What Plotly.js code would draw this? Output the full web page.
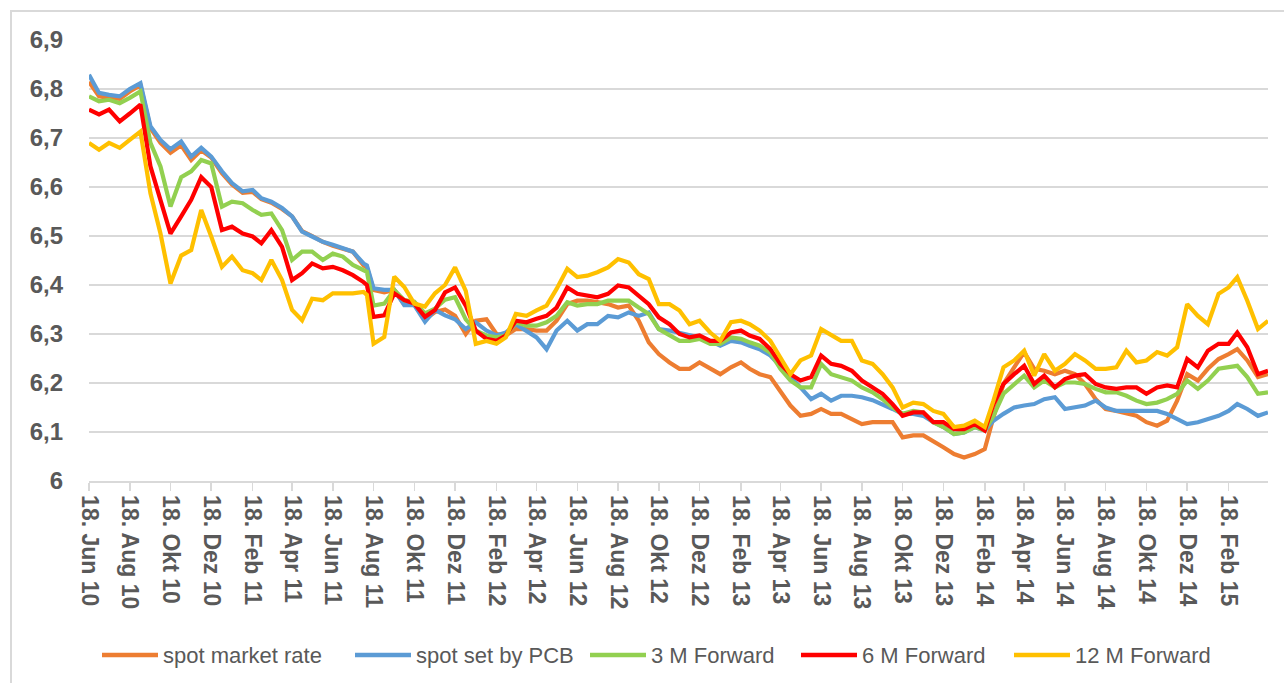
<!DOCTYPE html>
<html>
<head>
<meta charset="utf-8">
<script src="https://cdn.plot.ly/plotly-3.0.1.min.js"></script>
<style>
  html, body { margin: 0; padding: 0; background: #ffffff; }
  #wrap { position: relative; width: 1284px; height: 683px; overflow: hidden; }
  #frame { position: absolute; left: 10px; top: 10px; width: 1300px; height: 700px;
           border-top: 2px solid #d9d9d9; border-left: 2px solid #d9d9d9; pointer-events: none; }
  #chart { position: absolute; left: 0; top: 0; width: 1284px; height: 683px; }
</style>
</head>
<body>
<div id="wrap">
  <div id="chart"></div>
  <div id="frame"></div>
</div>
<script>
// Sample dates (roughly semi-monthly, plus one just before the Aug 2011 drop)
const dates = [
 "2010-06-18","2010-07-03","2010-07-18","2010-08-03","2010-08-18","2010-09-03","2010-09-18","2010-10-03","2010-10-18","2010-11-03",
 "2010-11-18","2010-12-03","2010-12-18","2011-01-03","2011-01-18","2011-02-03","2011-02-18","2011-03-03","2011-03-18","2011-04-03",
 "2011-04-18","2011-05-03","2011-05-18","2011-06-03","2011-06-18","2011-07-03","2011-07-18","2011-08-03","2011-08-08","2011-08-18","2011-09-03",
 "2011-09-18","2011-10-03","2011-10-18","2011-11-03","2011-11-18","2011-12-03","2011-12-18","2012-01-03","2012-01-18","2012-02-03",
 "2012-02-18","2012-03-03","2012-03-18","2012-04-03","2012-04-18","2012-05-03","2012-05-18","2012-06-03","2012-06-18","2012-07-03",
 "2012-07-18","2012-08-03","2012-08-18","2012-09-03","2012-09-18","2012-10-03","2012-10-18","2012-11-03","2012-11-18","2012-12-03",
 "2012-12-18","2013-01-03","2013-01-18","2013-02-03","2013-02-18","2013-03-03","2013-03-18","2013-04-03","2013-04-18","2013-05-03",
 "2013-05-18","2013-06-03","2013-06-18","2013-07-03","2013-07-18","2013-08-03","2013-08-18","2013-09-03","2013-09-18","2013-10-03",
 "2013-10-18","2013-11-03","2013-11-18","2013-12-03","2013-12-18","2014-01-03","2014-01-18","2014-02-03","2014-02-18","2014-03-03",
 "2014-03-18","2014-04-03","2014-04-18","2014-05-03","2014-05-18","2014-06-03","2014-06-18","2014-07-03","2014-07-18","2014-08-03",
 "2014-08-18","2014-09-03","2014-09-18","2014-10-03","2014-10-18","2014-11-03","2014-11-18","2014-12-03","2014-12-18","2015-01-03",
 "2015-01-18","2015-02-03","2015-02-18","2015-03-03","2015-03-18","2015-04-03","2015-04-18"
];

const spotMarket = [
 6.815,6.785,6.782,6.780,6.795,6.808,6.720,6.690,6.670,6.685,
 6.655,6.675,6.660,6.628,6.605,6.588,6.590,6.575,6.568,6.555,
 6.540,6.510,6.500,6.488,6.480,6.473,6.468,6.440,6.436,6.390,6.385,
 6.390,6.360,6.360,6.330,6.345,6.350,6.337,6.300,6.327,6.330,
 6.300,6.297,6.310,6.310,6.307,6.307,6.327,6.361,6.368,6.368,
 6.365,6.361,6.354,6.358,6.327,6.283,6.259,6.242,6.229,6.229,
 6.242,6.229,6.218,6.232,6.242,6.229,6.218,6.212,6.184,6.154,
 6.133,6.137,6.147,6.137,6.137,6.127,6.116,6.120,6.120,6.120,
 6.089,6.093,6.093,6.082,6.069,6.055,6.048,6.055,6.065,6.130,
 6.198,6.232,6.263,6.229,6.225,6.218,6.225,6.218,6.198,6.167,
 6.147,6.143,6.137,6.133,6.120,6.113,6.123,6.164,6.218,6.205,
 6.229,6.249,6.259,6.269,6.246,6.212,6.218
];

const spotPCB = [
 6.829,6.792,6.788,6.785,6.800,6.812,6.724,6.696,6.677,6.693,
 6.662,6.680,6.662,6.632,6.608,6.591,6.594,6.577,6.570,6.557,
 6.540,6.509,6.499,6.488,6.482,6.475,6.468,6.444,6.440,6.393,6.390,
 6.390,6.359,6.359,6.325,6.349,6.338,6.330,6.310,6.324,6.307,
 6.297,6.303,6.320,6.307,6.293,6.269,6.307,6.327,6.307,6.320,
 6.320,6.337,6.334,6.344,6.337,6.344,6.310,6.307,6.303,6.297,
 6.293,6.286,6.276,6.286,6.283,6.276,6.269,6.256,6.235,6.215,
 6.191,6.167,6.178,6.164,6.174,6.174,6.171,6.165,6.157,6.147,
 6.137,6.137,6.133,6.120,6.110,6.096,6.099,6.110,6.103,6.123,
 6.137,6.150,6.154,6.157,6.167,6.171,6.147,6.150,6.154,6.164,
 6.150,6.143,6.143,6.143,6.143,6.143,6.137,6.127,6.116,6.120,
 6.127,6.133,6.143,6.157,6.147,6.133,6.140
];

const fwd3M = [
 6.785,6.775,6.778,6.771,6.782,6.795,6.690,6.642,6.560,6.620,
 6.632,6.655,6.648,6.560,6.570,6.567,6.553,6.543,6.546,6.512,
 6.451,6.468,6.468,6.451,6.464,6.458,6.441,6.430,6.427,6.358,6.362,
 6.390,6.369,6.366,6.342,6.352,6.370,6.375,6.330,6.307,6.297,
 6.293,6.297,6.324,6.317,6.317,6.324,6.337,6.365,6.358,6.361,
 6.361,6.368,6.368,6.368,6.354,6.341,6.310,6.297,6.286,6.286,
 6.290,6.280,6.280,6.293,6.290,6.283,6.276,6.262,6.229,6.205,
 6.191,6.191,6.239,6.218,6.212,6.205,6.191,6.181,6.167,6.150,
 6.137,6.143,6.140,6.120,6.110,6.096,6.099,6.110,6.103,6.133,
 6.178,6.198,6.215,6.191,6.205,6.191,6.201,6.201,6.198,6.188,
 6.181,6.181,6.174,6.164,6.157,6.160,6.167,6.178,6.205,6.188,
 6.205,6.229,6.232,6.235,6.212,6.178,6.181
];

const fwd6M = [
 6.758,6.748,6.758,6.734,6.750,6.768,6.642,6.574,6.505,6.540,
 6.574,6.620,6.600,6.512,6.519,6.505,6.499,6.485,6.512,6.478,
 6.410,6.424,6.444,6.434,6.437,6.430,6.420,6.406,6.400,6.335,6.338,
 6.383,6.369,6.362,6.335,6.349,6.385,6.395,6.358,6.307,6.290,
 6.286,6.297,6.327,6.324,6.331,6.337,6.354,6.395,6.382,6.378,
 6.375,6.382,6.399,6.395,6.378,6.361,6.334,6.320,6.300,6.293,
 6.297,6.286,6.286,6.303,6.307,6.297,6.290,6.269,6.239,6.218,
 6.205,6.212,6.256,6.239,6.235,6.225,6.205,6.191,6.178,6.157,
 6.133,6.140,6.140,6.120,6.120,6.106,6.106,6.116,6.103,6.157,
 6.198,6.218,6.235,6.198,6.215,6.191,6.208,6.215,6.218,6.198,
 6.191,6.188,6.191,6.191,6.178,6.191,6.195,6.191,6.249,6.232,
 6.266,6.280,6.280,6.303,6.273,6.218,6.225
];

const fwd12M = [
 6.690,6.676,6.690,6.680,6.696,6.713,6.587,6.505,6.403,6.460,
 6.471,6.553,6.499,6.437,6.458,6.430,6.424,6.410,6.451,6.410,
 6.349,6.328,6.372,6.369,6.383,6.383,6.383,6.386,6.380,6.280,6.294,
 6.417,6.396,6.362,6.356,6.383,6.400,6.436,6.388,6.280,6.286,
 6.280,6.293,6.341,6.337,6.348,6.358,6.392,6.433,6.416,6.419,
 6.426,6.436,6.453,6.446,6.422,6.412,6.361,6.361,6.348,6.320,
 6.327,6.303,6.286,6.324,6.327,6.320,6.307,6.286,6.252,6.218,
 6.246,6.256,6.310,6.297,6.286,6.286,6.246,6.239,6.218,6.191,
 6.150,6.160,6.157,6.143,6.137,6.110,6.113,6.123,6.110,6.164,
 6.232,6.246,6.266,6.215,6.259,6.225,6.239,6.259,6.246,6.229,
 6.229,6.232,6.266,6.242,6.246,6.263,6.256,6.273,6.361,6.337,
 6.320,6.382,6.395,6.416,6.368,6.310,6.327
];

const seriesNames = ["spot market rate","spot set by PCB","3 M Forward","6 M Forward","12 M Forward"];
const seriesColors = ["#ED7D31","#5B9BD5","#92D050","#FF0000","#FFC000"];

const tickDates = [
 "2010-06-18","2010-08-18","2010-10-18","2010-12-18","2011-02-18","2011-04-18","2011-06-18","2011-08-18","2011-10-18","2011-12-18",
 "2012-02-18","2012-04-18","2012-06-18","2012-08-18","2012-10-18","2012-12-18","2013-02-18","2013-04-18","2013-06-18","2013-08-18",
 "2013-10-18","2013-12-18","2014-02-18","2014-04-18","2014-06-18","2014-08-18","2014-10-18","2014-12-18","2015-02-18"
];
const tickLabels = [
 "18. Jun 10","18. Aug 10","18. Okt 10","18. Dez 10","18. Feb 11","18. Apr 11","18. Jun 11","18. Aug 11","18. Okt 11","18. Dez 11",
 "18. Feb 12","18. Apr 12","18. Jun 12","18. Aug 12","18. Okt 12","18. Dez 12","18. Feb 13","18. Apr 13","18. Jun 13","18. Aug 13",
 "18. Okt 13","18. Dez 13","18. Feb 14","18. Apr 14","18. Jun 14","18. Aug 14","18. Okt 14","18. Dez 14","18. Feb 15"
];

// ---- geometry / style (not data) ----
const W = 1284, H = 683;
const M = { l: 89, r: 16, t: 40, b: 202 };
const plotW = W - M.l - M.r, plotH = H - M.t - M.b;
const px2paperX = px => (px - M.l) / plotW;
const px2paperY = py => (H - M.b - py) / plotH;
const legendLineStart = [102, 355, 590, 801, 1014];
const legendLineLen = 56;
const legendRowY = 655;

const allSeries = [spotMarket, spotPCB, fwd3M, fwd6M, fwd12M];
const traces = allSeries.map((vals, i) => ({
  type: "scatter",
  mode: "lines",
  name: seriesNames[i],
  x: dates,
  y: vals,
  line: { color: seriesColors[i], width: 4.2 },
  hoverinfo: "skip",
  showlegend: false
}));

const textGrey = "#595959";
const shapes = [];
const annotations = [];
seriesNames.forEach((name, i) => {
  const x0 = legendLineStart[i];
  shapes.push({
    type: "line", xref: "paper", yref: "paper",
    x0: px2paperX(x0), x1: px2paperX(x0 + legendLineLen),
    y0: px2paperY(legendRowY), y1: px2paperY(legendRowY),
    line: { color: seriesColors[i], width: 4.5 }
  });
  annotations.push({
    xref: "paper", yref: "paper",
    x: px2paperX(x0 + legendLineLen + 3), y: px2paperY(legendRowY),
    xanchor: "left", yanchor: "middle",
    text: name, showarrow: false,
    font: { family: "Liberation Sans, Arial, sans-serif", size: 22, color: textGrey }
  });
});

const layout = {
  width: W,
  height: H,
  margin: M,
  paper_bgcolor: "rgba(0,0,0,0)",
  plot_bgcolor: "rgba(0,0,0,0)",
  separators: ",.",
  showlegend: false,
  shapes: shapes,
  annotations: annotations,
  xaxis: {
    type: "date",
    range: [dates[0], dates[dates.length - 1]],
    tickmode: "array",
    tickvals: tickDates,
    ticktext: tickLabels,
    tickangle: 90,
    ticks: "outside",
    ticklen: 8,
    tickwidth: 1.5,
    tickcolor: "#d9d9d9",
    showline: true,
    linecolor: "#d9d9d9",
    linewidth: 1.5,
    showgrid: false,
    zeroline: false,
    tickfont: { family: "Liberation Sans, Arial, sans-serif", size: 23, color: textGrey, weight: "bold" }
  },
  yaxis: {
    range: [6, 6.9],
    tick0: 6,
    dtick: 0.1,
    showgrid: true,
    gridcolor: "#d9d9d9",
    gridwidth: 1.5,
    zeroline: false,
    showline: false,
    ticks: "",
    ticklabelstandoff: 25,
    tickfont: { family: "Liberation Sans, Arial, sans-serif", size: 24, color: textGrey, weight: "bold" }
  }
};

Plotly.newPlot("chart", traces, layout, { staticPlot: true, displayModeBar: false });
</script>
</body>
</html>
